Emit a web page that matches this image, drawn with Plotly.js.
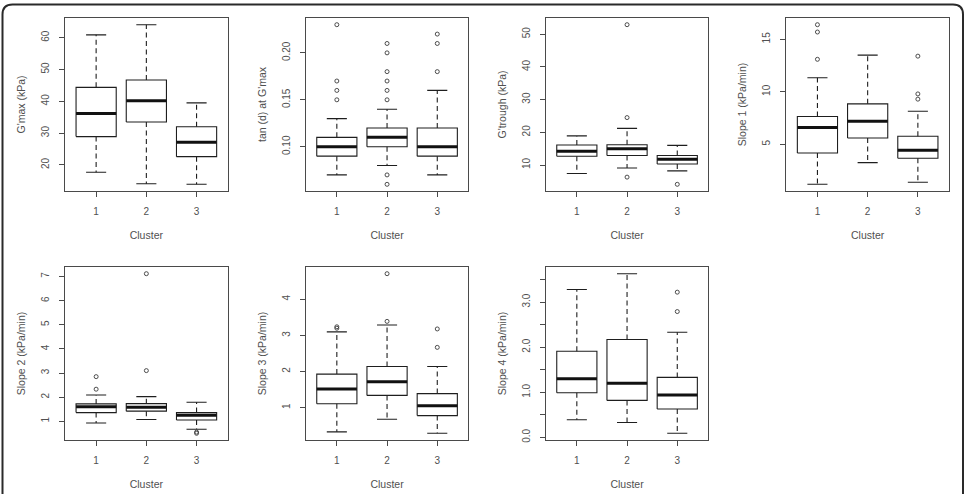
<!DOCTYPE html>
<html>
<head>
<meta charset="utf-8">
<script src="https://cdn.plot.ly/plotly-3.0.1.min.js"></script>
<style>
  html, body { margin: 0; padding: 0; background: #fff; }
  #chart { width: 967px; height: 494px; }
</style>
</head>
<body>
<div id="chart"></div>
<script>
// Cluster labels on every x axis
const clusters = [1, 2, 3];

// Five-number summaries per cluster: [lower whisker, Q1, median, Q3, upper whisker]
const gmaxBoxes    = [[17.7, 28.9, 36.2, 44.4, 60.9], [14.1, 33.5, 40.2, 46.7, 64.1], [13.9, 22.6, 27.1, 32.0, 39.5]];
const tandBoxes    = [[0.07, 0.09, 0.10, 0.11, 0.13], [0.08, 0.10, 0.11, 0.12, 0.14], [0.07, 0.09, 0.10, 0.12, 0.16]];
const gtroughBoxes = [[7.4, 12.7, 14.2, 16.1, 18.9], [9.1, 12.9, 15.0, 16.2, 21.2], [8.2, 10.3, 11.8, 12.9, 16.0]];
const slope1Boxes  = [[1.18, 4.17, 6.6, 7.64, 11.34], [3.25, 5.6, 7.2, 8.85, 13.5], [1.37, 3.66, 4.43, 5.76, 8.15]];
const slope2Boxes  = [[0.93, 1.36, 1.6, 1.72, 2.09], [1.07, 1.42, 1.58, 1.73, 2.02], [0.67, 1.05, 1.25, 1.36, 1.79]];
const slope3Boxes  = [[0.33, 1.11, 1.52, 1.93, 3.10], [0.68, 1.34, 1.72, 2.14, 3.29], [0.29, 0.78, 1.05, 1.39, 2.14]];
const slope4Boxes  = [[0.39, 0.99, 1.30, 1.91, 3.28], [0.33, 0.82, 1.20, 2.17, 3.63], [0.09, 0.63, 0.94, 1.33, 2.33]];

// Outlying observations per cluster
const gmaxOutliers    = [[], [], []];
const tandOutliers    = [[0.23, 0.17, 0.16, 0.15], [0.21, 0.20, 0.18, 0.17, 0.16, 0.15, 0.07, 0.06], [0.22, 0.21, 0.18]];
const gtroughOutliers = [[], [52.9, 24.5, 6.3], [4.1]];
const slope1Outliers  = [[16.4, 15.7, 13.1], [], [13.4, 9.8, 9.3]];
const slope2Outliers  = [[2.85, 2.33], [7.12, 3.1], [0.55, 0.5]];
const slope3Outliers  = [[3.2, 3.24], [4.71, 3.39], [3.18, 2.67]];
const slope4Outliers  = [[], [], [3.22, 2.79]];

// Axis titles and tick labels
const yTitles = ["G'max (kPa)", "tan (d) at G'max", "G'trough (kPa)", "Slope 1 (kPa/min)",
                 "Slope 2 (kPa/min)", "Slope 3 (kPa/min)", "Slope 4 (kPa/min)"];
const xTitle = "Cluster";
const gmaxTicks    = [20, 30, 40, 50, 60];
const tandTicks    = [0.10, 0.15, 0.20];
const tandTickText = ["0.10", "0.15", "0.20"];
const gtroughTicks = [10, 20, 30, 40, 50];
const slope1Ticks  = [5, 10, 15];
const slope2Ticks  = [1, 2, 3, 4, 5, 6, 7];
const slope3Ticks  = [1, 2, 3, 4];
const slope4Ticks    = [0, 0.5, 1, 1.5, 2, 2.5, 3, 3.5];
const slope4TickText = ["0.0", "", "1.0", "", "2.0", "", "3.0", ""];

const panels = [
  { boxes: gmaxBoxes,    outliers: gmaxOutliers,    ticks: gmaxTicks },
  { boxes: tandBoxes,    outliers: tandOutliers,    ticks: tandTicks, tickText: tandTickText },
  { boxes: gtroughBoxes, outliers: gtroughOutliers, ticks: gtroughTicks },
  { boxes: slope1Boxes,  outliers: slope1Outliers,  ticks: slope1Ticks },
  { boxes: slope2Boxes,  outliers: slope2Outliers,  ticks: slope2Ticks },
  { boxes: slope3Boxes,  outliers: slope3Outliers,  ticks: slope3Ticks },
  { boxes: slope4Boxes,  outliers: slope4Outliers,  ticks: slope4Ticks, tickText: slope4TickText }
];

// Page geometry (px)
const W = 967, H = 494;
const panelLeft = [65, 305.7, 545.7, 786.3, 65, 305.7, 545.7];
const panelTop  = [18.3, 18.3, 18.3, 18.3, 267.3, 267.3, 267.3];
const panelW = 162.7, panelH = 172.4;

const BOXHALF = 0.4, STAPLEHALF = 0.2;
const ink = '#1e1e1e', textCol = '#505050', frameCol = '#4a4a4a';
const family = 'Liberation Sans, Arial, Helvetica, sans-serif';
const tickFont = { family: family, size: 10, color: textCol };
const titleFont = { family: family, size: 10.5, color: textCol };

const traces = [];
const layout = {
  width: W, height: H,
  margin: { l: 0, r: 0, t: 0, b: 0 },
  paper_bgcolor: '#fff', plot_bgcolor: '#fff',
  showlegend: false,
  font: tickFont,
  shapes: []
};

panels.forEach((p, k) => {
  const n = k + 1;
  const xa = n === 1 ? 'x' : 'x' + n;
  const ya = n === 1 ? 'y' : 'y' + n;

  const wx = [], wy = [], bx = [], by = [], mx = [], my = [], sx = [], sy = [], ox = [], oy = [];
  let lo = Infinity, hi = -Infinity;
  p.boxes.forEach((b, i) => {
    const c = clusters[i];
    const [lw, q1, med, q3, uw] = b;
    wx.push(c, c, null, c, c, null);
    wy.push(q3, uw, null, q1, lw, null);
    bx.push(c - BOXHALF, c + BOXHALF, c + BOXHALF, c - BOXHALF, c - BOXHALF, null);
    by.push(q1, q1, q3, q3, q1, null);
    mx.push(c - BOXHALF, c + BOXHALF, null);
    my.push(med, med, null);
    sx.push(c - STAPLEHALF, c + STAPLEHALF, null, c - STAPLEHALF, c + STAPLEHALF, null);
    sy.push(uw, uw, null, lw, lw, null);
    lo = Math.min(lo, lw); hi = Math.max(hi, uw);
    p.outliers[i].forEach(v => {
      ox.push(c); oy.push(v);
      lo = Math.min(lo, v); hi = Math.max(hi, v);
    });
  });

  const common = { xaxis: xa, yaxis: ya, mode: 'lines', hoverinfo: 'skip', showlegend: false };
  traces.push(Object.assign({ x: wx, y: wy, line: { color: ink, width: 1.1, dash: '5px,3.5px' } }, common));
  traces.push(Object.assign({ x: sx, y: sy, line: { color: ink, width: 1.1 } }, common));
  traces.push(Object.assign({ x: bx, y: by, line: { color: ink, width: 1.1 } }, common));
  traces.push(Object.assign({ x: mx, y: my, line: { color: '#111', width: 3 } }, common));
  if (ox.length) {
    traces.push({
      x: ox, y: oy, xaxis: xa, yaxis: ya, mode: 'markers', hoverinfo: 'skip', showlegend: false,
      marker: { symbol: 'circle-open', size: 4, color: '#3a3a3a', line: { width: 0.9, color: '#3a3a3a' } }
    });
  }

  // R-style 4% padding on the data range
  const pad = (hi - lo) * 0.04;
  const x0 = panelLeft[k] / W, x1 = (panelLeft[k] + panelW) / W;
  const y1 = 1 - panelTop[k] / H, y0 = 1 - (panelTop[k] + panelH) / H;

  layout['xaxis' + (n === 1 ? '' : n)] = {
    domain: [x0, x1], anchor: ya, range: [0.38, 3.62],
    tickvals: clusters, ticktext: clusters.map(String),
    ticks: 'outside', ticklen: 5, tickwidth: 1, tickcolor: frameCol,
    ticklabelstandoff: 6,
    showline: true, mirror: true, linecolor: frameCol, linewidth: 1,
    showgrid: false, zeroline: false, fixedrange: true,
    tickfont: tickFont,
    title: { text: xTitle, font: titleFont, standoff: 15 }
  };
  layout['yaxis' + (n === 1 ? '' : n)] = {
    domain: [y0, y1], anchor: xa, range: [lo - pad, hi + pad],
    tickvals: p.ticks, ticktext: p.tickText || p.ticks.map(String),
    tickangle: -90,
    ticks: 'outside', ticklen: 5, tickwidth: 1, tickcolor: frameCol,
    ticklabelstandoff: 6,
    showline: true, mirror: true, linecolor: frameCol, linewidth: 1,
    showgrid: false, zeroline: false, fixedrange: true,
    tickfont: tickFont,
    title: { text: yTitles[k], font: titleFont, standoff: 12 }
  };
});

// Rounded frame around the whole figure (open at the bottom edge)
const L = 2.5 / W, R = 963 / W, T = 1 - 4.5 / H, B = -0.05;
const rx = 10 / W, ry = 10 / H;
layout.shapes.push({
  type: 'path', xref: 'paper', yref: 'paper',
  path: `M ${L} ${B} L ${L} ${T - ry} Q ${L} ${T} ${L + rx} ${T} L ${R - rx} ${T} Q ${R} ${T} ${R} ${T - ry} L ${R} ${B}`,
  line: { color: '#2a2a2a', width: 2 }
});

Plotly.newPlot('chart', traces, layout, { staticPlot: true, displayModeBar: false });
</script>
</body>
</html>
